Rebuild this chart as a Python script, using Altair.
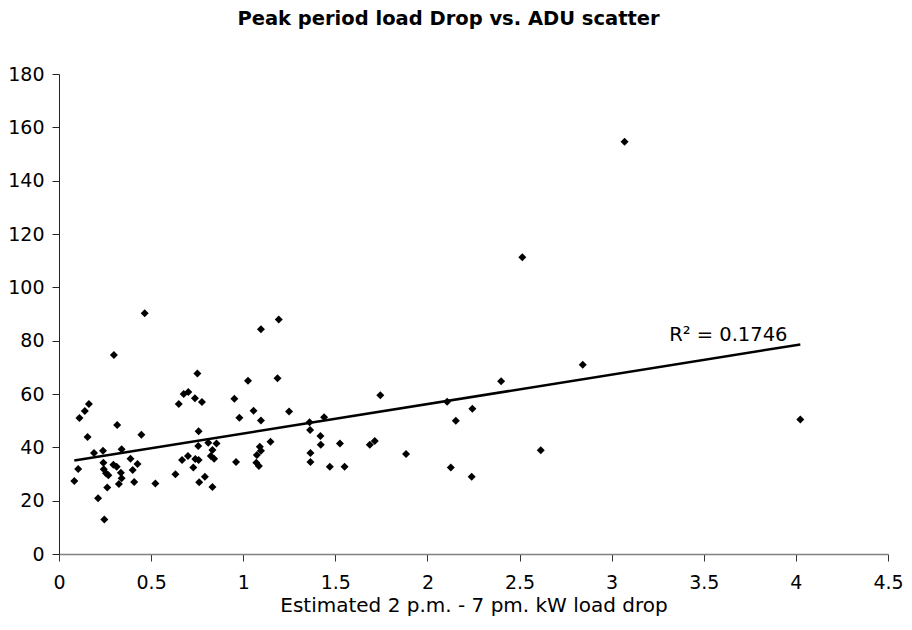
import altair as alt
import pandas as pd

# Estimated 2 p.m. - 7 p.m. kW load drop
load_drop = [
    0.298, 0.751, 1.026, 0.162, 0.140, 0.111, 0.650, 0.677, 0.702, 0.738,
    0.776, 0.952, 0.979, 1.056, 0.316, 0.155, 0.447, 0.758, 0.190, 0.239,
    0.340, 0.241, 0.388, 0.426, 0.104, 0.083, 0.243, 0.295, 0.313, 0.255,
    0.268, 0.336, 0.340, 0.325, 0.400, 0.408, 0.262, 0.212, 0.246, 0.523,
    0.632, 0.668, 0.700, 0.729, 0.740, 0.758, 0.756, 0.761, 0.792, 0.810,
    0.833, 0.824, 0.842, 0.855, 0.833, 0.961,
    3.070, 2.515, 0.465, 1.096, 1.193,
    1.186, 1.096, 1.249, 1.744, 1.360, 1.439, 1.363, 1.419, 1.421, 1.525,
    1.687, 1.714, 1.884, 1.148, 1.090, 1.096, 1.074, 1.071, 1.085, 1.365,
    1.365, 1.470, 1.550,
    2.843, 2.400, 2.107, 2.244, 2.154, 2.615, 2.127, 2.240, 4.024,
]
# ADU
adu = [
    74.6, 67.7, 65.0, 56.25, 53.6, 51.0, 56.25, 60.0, 60.75, 58.4,
    57.0, 58.25, 51.1, 53.75, 48.4, 43.9, 44.75, 46.0, 37.9, 38.75,
    39.25, 34.25, 35.75, 33.75, 31.9, 27.4, 31.75, 33.5, 32.75, 30.25,
    29.5, 30.5, 28.4, 26.25, 31.5, 27.0, 24.9, 20.9, 12.9, 26.4,
    29.9, 35.25, 36.75, 32.4, 35.6, 35.25, 40.5, 26.9, 29.0, 41.75,
    39.0, 36.75, 35.75, 41.4, 25.1, 34.5,
    154.6, 111.3, 90.3, 84.3, 87.9,
    65.9, 50.1, 53.4, 59.5, 49.4, 51.25, 46.5, 44.25, 41.0, 41.4,
    41.0, 42.4, 37.5, 42.1, 40.25, 38.75, 37.1, 34.25, 33.0, 37.9,
    34.5, 32.75, 32.75,
    71.0, 64.75, 57.1, 54.5, 50.0, 38.9, 32.4, 29.0, 50.4,
]
r2_label = "R\u00b2 = 0.1746"
x_ticks = [0, 0.5, 1, 1.5, 2, 2.5, 3, 3.5, 4, 4.5]
y_ticks = [0, 20, 40, 60, 80, 100, 120, 140, 160, 180]

df = pd.DataFrame({"x": load_drop, "y": adu})
FONT = "DejaVu Sans"

xenc = alt.X("x:Q", scale=alt.Scale(domain=[0, 4.5], nice=False),
             axis=alt.Axis(values=x_ticks, format="~g", title="Estimated 2 p.m. - 7 pm. kW load drop",
                           grid=False, domainColor="#808080", domainWidth=1.5,
                           tickColor="#333333", tickSize=7, labelPadding=12,
                           titlePadding=3, labelFlush=False, titleFontSize=20))
yenc = alt.Y("y:Q", scale=alt.Scale(domain=[0, 180], nice=False),
             axis=alt.Axis(values=y_ticks, title=None, grid=False, domainColor="#222222",
                           tickColor="#222222", tickSize=7, labelPadding=8))

base = alt.Chart(df)

points = base.mark_point(shape="diamond", filled=True, color="black", size=64, opacity=1).encode(
    x=xenc, y=yenc
)

trend = base.transform_regression("x", "y").mark_line(color="black", strokeWidth=2.5).encode(
    x="x:Q", y="y:Q"
)

r2 = (
    base.transform_regression("x", "y")
    .transform_joinaggregate(maxx="max(x)")
    .transform_filter("datum.x == datum.maxx")
    .mark_text(text=r2_label, font=FONT, fontSize=19.5, color="black", dx=-72, dy=-3,
               align="center", baseline="alphabetic")
    .encode(x="x:Q", y="y:Q")
)

chart = (
    alt.layer(points, trend, r2)
    .properties(
        width=829,
        height=480,
        title=alt.TitleParams("Peak period load Drop vs. ADU scatter", font=FONT, fontSize=19.5,
                              fontWeight="bold", anchor="middle", dx=-25, offset=36, color="black"),
        autosize=alt.AutoSizeParams(type="none"),
        padding={"left": 51, "top": 66, "right": 16, "bottom": 75},
    )
    .configure_view(stroke=None)
    .configure_axis(labelFont=FONT, labelFontSize=19, labelColor="black",
                    titleFont=FONT, titleFontSize=19, titleFontWeight="normal", titleColor="black")
)

chart.save("out.html", embed_options={"renderer": "svg", "actions": False})
